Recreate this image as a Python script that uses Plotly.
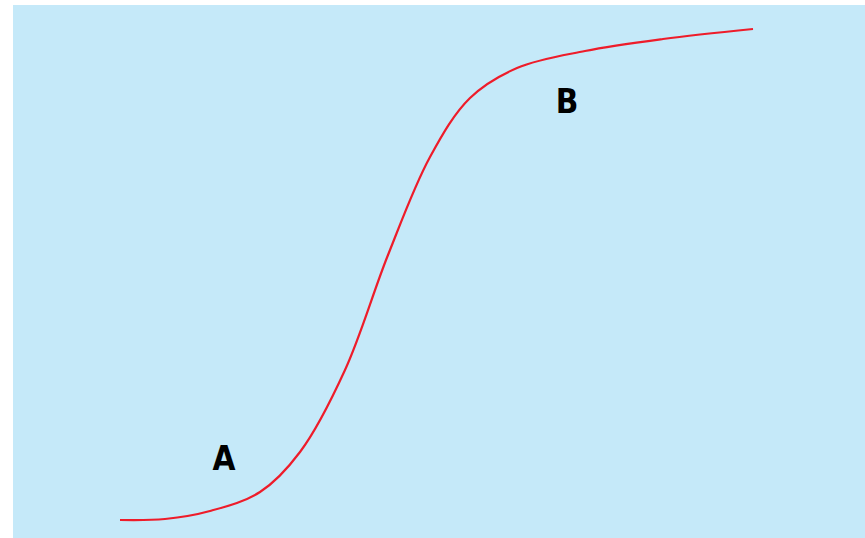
import plotly.graph_objects as go

# curve samples (x to the right, y upward)
curve_x = [120, 165, 210, 260, 300, 345, 388, 430, 470, 517, 585, 663, 753]
curve_y = [18, 19, 27, 46, 86, 168, 283, 381, 440, 470, 487, 499, 509]

label_text = ["A", "B"]
label_x = [224, 567]
label_y = [76, 433]

fig = go.Figure()

fig.add_trace(go.Scatter(
    x=curve_x, y=curve_y,
    mode="lines",
    line=dict(color="#ee1c2a", width=2.2, shape="spline", smoothing=1.0),
    hoverinfo="skip",
    showlegend=False,
))

fig.add_trace(go.Scatter(
    x=label_x, y=label_y,
    mode="text",
    text=label_text,
    textfont=dict(family="DejaVu Sans Condensed, Liberation Sans Narrow, Arial",
                  size=33, color="#000000", weight="bold"),
    textposition="middle center",
    hoverinfo="skip",
    showlegend=False,
))

fig.update_xaxes(range=[13, 865], visible=False, fixedrange=True)
fig.update_yaxes(range=[0, 533], visible=False, fixedrange=True)

fig.update_layout(
    width=865, height=538,
    margin=dict(l=13, r=0, t=5, b=0),
    plot_bgcolor="#c5e9f9",
    paper_bgcolor="#ffffff",
)

fig.write_html("out.html", config={"displayModeBar": False},
               post_script="document.body.style.margin='0';")
